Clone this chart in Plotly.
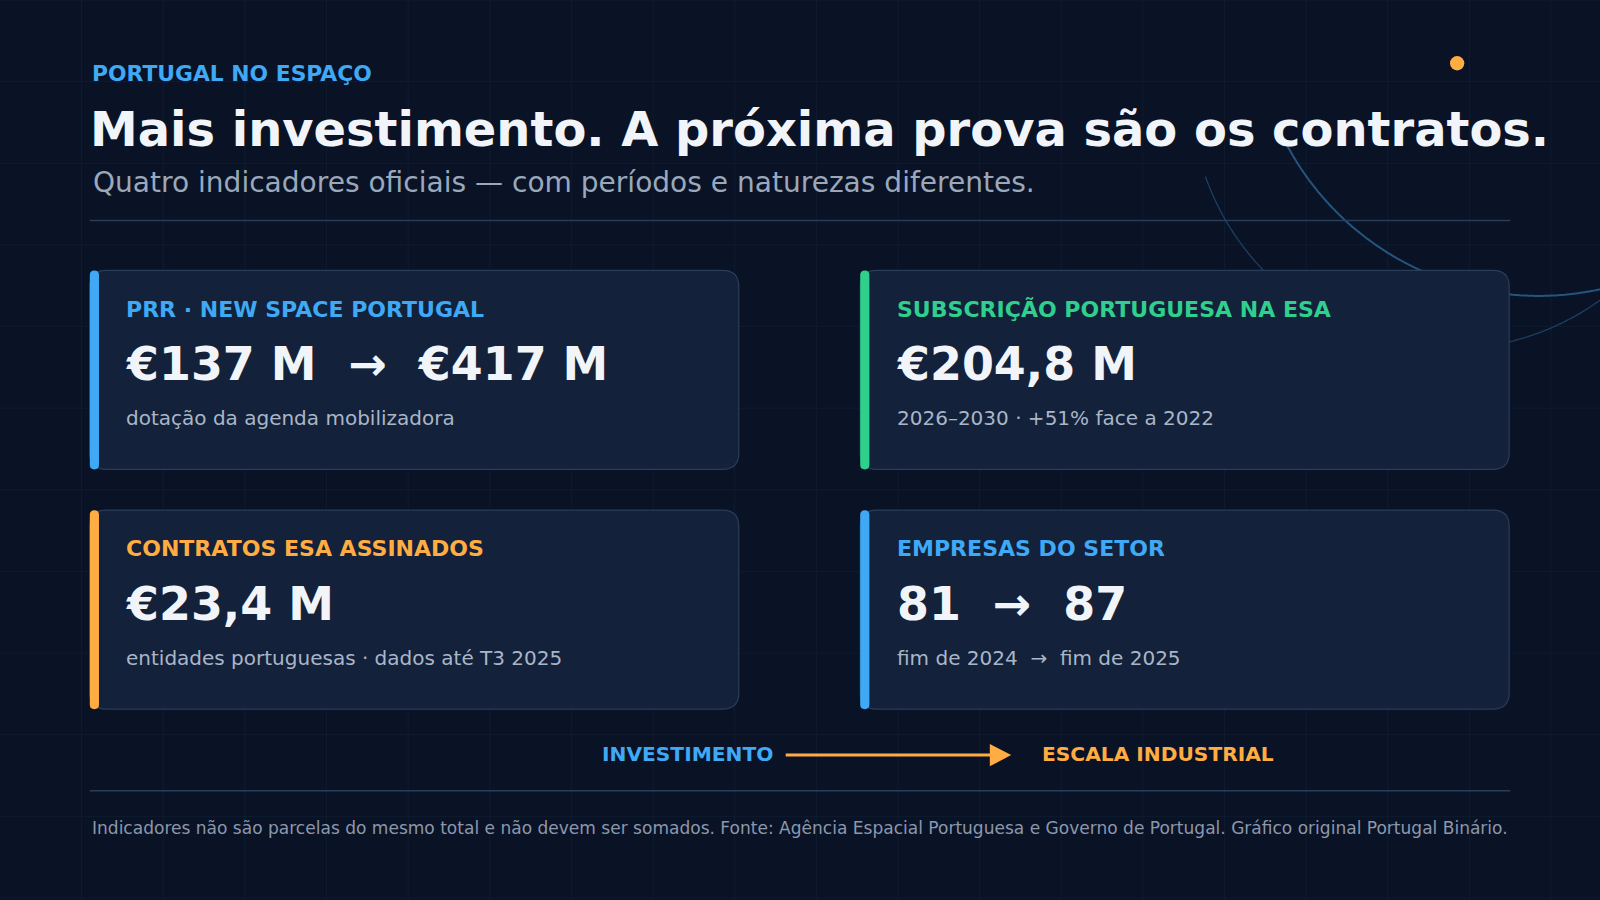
import numpy as np
import plotly.graph_objects as go

W, H = 1568, 882
S = 1600 / 1568

overline = "PORTUGAL NO ESPAÇO"
title = "Mais investimento. A próxima prova são os contratos."
subtitle = "Quatro indicadores oficiais — com períodos e naturezas diferentes."
card_labels = ["PRR · NEW SPACE PORTUGAL", "SUBSCRIÇÃO PORTUGUESA NA ESA",
               "CONTRATOS ESA ASSINADOS", "EMPRESAS DO SETOR"]
card_values = ["€137 M  →  €417 M", "€204,8 M", "€23,4 M", "81  →  87"]
card_notes = ["dotação da agenda mobilizadora", "2026–2030 · +51% face a 2022",
              "entidades portuguesas · dados até T3 2025", "fim de 2024  →  fim de 2025"]
card_colors = ["#3fa9f5", "#2fcf8e", "#ffad42", "#3fa9f5"]
flow_left, flow_right = "INVESTIMENTO", "ESCALA INDUSTRIAL"
footnote = ("Indicadores não são parcelas do mesmo total e não devem ser somados. "
            "Fonte: Agência Espacial Portuguesa e Governo de Portugal. Gráfico original Portugal Binário.")

BG = "#0a1226"
CARD = "#13213a"
BORDER = "#2a3d58"
FONT = "DejaVu Sans"

fig = go.Figure()
shapes = []
ann = []

for gx in range(80, W, 80):
    shapes.append(dict(type="line", x0=gx, x1=gx, y0=0, y1=H, line=dict(color="#0f1c30", width=1), layer="below"))
for gy in range(0, H, 80):
    shapes.append(dict(type="line", x0=0, x1=W, y0=gy, y1=gy, line=dict(color="#0f1c30", width=1), layer="below"))

def arc(cx, cy, r, x_start, color, width):
    t = np.linspace(0, np.pi, 400)
    pts = [(cx + r*np.cos(a), cy + r*np.sin(a)) for a in t]
    pts = [(x, y) for x, y in pts if x >= x_start - 1 and x <= W + 5]
    pts = sorted(pts, key=lambda p: p[0])
    path = "M " + " L ".join(f"{x:.1f},{y:.1f}" for x, y in pts)
    return dict(type="path", path=path, line=dict(color=color, width=width), layer="below")

shapes.append(arc(1508, 10, 280, 1252, "#24557f", 2))
shapes.append(arc(1420, 89, 253, 1182, "#1d3f62", 1.3))

def rrect(x0, y0, x1, y1, r):
    return (f"M {x0+r},{y0} L {x1-r},{y0} Q {x1},{y0} {x1},{y0+r} L {x1},{y1-r} "
            f"Q {x1},{y1} {x1-r},{y1} L {x0+r},{y1} Q {x0},{y1} {x0},{y1-r} "
            f"L {x0},{y0+r} Q {x0},{y0} {x0+r},{y0} Z")

cards = [(88, 265), (843, 265), (88, 500), (843, 500)]
cw, ch = 636, 195
for i, (x0, y0) in enumerate(cards):
    shapes.append(dict(type="path", path=rrect(x0, y0, x0+cw, y0+ch, 16),
                       fillcolor=CARD, line=dict(color=BORDER, width=1.2), layer="below"))
    shapes.append(dict(type="path", path=rrect(x0, y0, x0+9, y0+ch, 4.5),
                       fillcolor=card_colors[i], line=dict(width=0), layer="below"))
    tx = x0 + 34
    ann.append(dict(x=tx, y=y0+38, text=f"<b>{card_labels[i]}</b>", font=dict(size=21.6*S, color=card_colors[i])))
    ann.append(dict(x=tx, y=y0+92, text=f"<b>{card_values[i]}</b>", font=dict(size=45*S, color="#f1f5f9")))
    ann.append(dict(x=tx, y=y0+145, text=card_notes[i], font=dict(size=19.6*S, color="#a9b6c8")))

ann.append(dict(x=88, y=72, text=f"<b>{overline}</b>", font=dict(size=21.4*S, color="#3fa9f5")))
ann.append(dict(x=86, y=126, text=f"<b>{title}</b>", font=dict(size=47*S, color="#f1f5f9")))
ann.append(dict(x=89, y=179, text=subtitle, font=dict(size=27.5*S, color="#9aa8bc")))
shapes.append(dict(type="line", x0=88, x1=1480, y0=216, y1=216, line=dict(color=BORDER, width=1.5)))
shapes.append(dict(type="circle", x0=1421, x1=1435, y0=55, y1=69, fillcolor="#ffad42", line=dict(width=0)))

ann.append(dict(x=588, y=739, text=f"<b>{flow_left}</b>", font=dict(size=19.8*S, color="#3fa9f5")))
ann.append(dict(x=1019, y=739, text=f"<b>{flow_right}</b>", font=dict(size=19.8*S, color="#ffad42")))
shapes.append(dict(type="line", x0=770, x1=972, y0=740, y1=740, line=dict(color="#ffad42", width=3)))
shapes.append(dict(type="path", path="M 970,729 L 991,740 L 970,751 Z", fillcolor="#ffad42", line=dict(width=0)))

shapes.append(dict(type="line", x0=88, x1=1480, y0=775, y1=775, line=dict(color=BORDER, width=1.5)))
ann.append(dict(x=88, y=811, text=footnote, font=dict(size=16.7*S, color="#8b98ac")))

for a in ann:
    a.update(xref="x", yref="y", xanchor="left", yanchor="middle", showarrow=False)

fig.update_layout(
    width=1600, height=900, margin=dict(l=0, r=0, t=0, b=0),
    paper_bgcolor=BG, plot_bgcolor=BG, font=dict(family=FONT),
    xaxis=dict(range=[0, W], visible=False, fixedrange=True),
    yaxis=dict(range=[H, 0], visible=False, fixedrange=True),
    shapes=shapes, annotations=ann, showlegend=False,
)
fig.write_html("out.html", config={"displayModeBar": False},
               post_script="document.body.style.margin='0';document.body.style.background='#0a1226';")
